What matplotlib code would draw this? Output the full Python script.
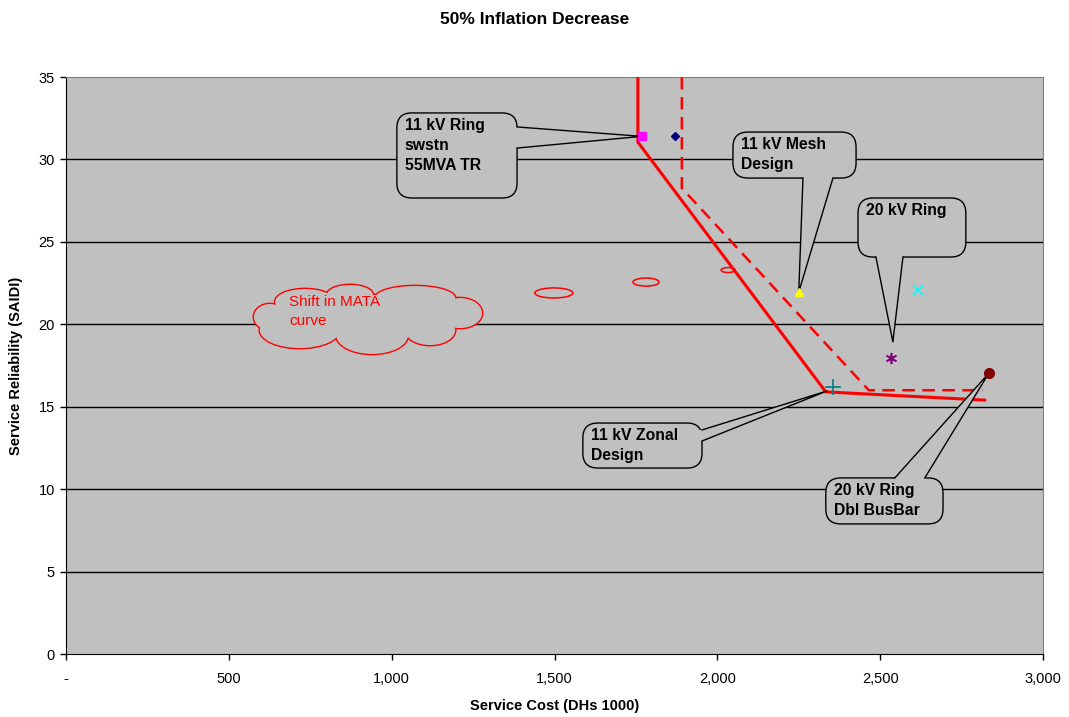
import matplotlib
matplotlib.use("Agg")
import matplotlib.pyplot as plt
from matplotlib.patches import FancyBboxPatch, Ellipse, Polygon
from matplotlib.ticker import FuncFormatter

plt.rcParams['font.family'] = ['Liberation Sans', 'DejaVu Sans']

# design options: service cost (DHs 1000) vs reliability (SAIDI)
ring_swstn = (1768, 31.4)
ring_swstn_alt = (1870, 31.4)
mesh_design = (2250, 21.95)
ring_20kv_alt = (2616, 22.1)
ring_20kv = (2533, 17.95)
zonal_design = (2355, 16.2)
ring_dbl_busbar = (2834, 17.04)

# MATA curves (original and shifted)
mata_x = [1756, 1756, 2333, 2821]
mata_y = [35, 31.05, 15.9, 15.4]
mata_shift_x = [1891, 1891, 2465, 2815]
mata_shift_y = [35, 28.26, 16.0, 16.0]

x_ticks = [0, 500, 1000, 1500, 2000, 2500, 3000]
y_ticks = [0, 5, 10, 15, 20, 25, 30, 35]

# callouts: text, box (x0, y0, x1, y1), wedge base two points, tip
callouts = [
    ("11 kV Ring\nswstn\n55MVA TR", (1016, 27.66, 1385, 32.82),
     [(1385, 31.97), (1385, 30.69)], ring_swstn),
    ("11 kV Mesh\nDesign", (2048, 28.87, 2426, 31.66),
     [(2263, 28.87), (2355, 28.87)], mesh_design),
    ("20 kV Ring", (2432, 24.08, 2763, 27.66),
     [(2487, 24.08), (2570, 24.08)], (2539, 18.93)),
    ("11 kV Zonal\nDesign", (1587, 11.28, 1953, 14.01),
     [(1953, 13.59), (1953, 12.92)], (2336, 15.95)),
    ("20 kV Ring\nDbl BusBar", (2333, 7.89, 2693, 10.68),
     [(2545, 10.68), (2637, 10.68)], ring_dbl_busbar),
]

# cloud lobes (cx, cy, width, height)
cloud = [(626, 20.44, 98, 1.58), (734, 21.35, 184, 1.58), (872, 21.78, 141, 1.21),
         (1072, 21.59, 246, 1.46), (1210, 20.68, 135, 1.82), (1118, 19.65, 154, 1.82),
         (940, 19.35, 221, 2.3), (718, 19.65, 246, 2.18), (933, 20.56, 553, 2.43)]
bubbles = [(1498, 21.9, 117, 0.61), (1781, 22.56, 80, 0.49), (2033, 23.29, 43, 0.3)]

bg = '#C0C0C0'
W, H = 1069, 717
fig = plt.figure(figsize=(W / 100, H / 100), dpi=100)
ax = fig.add_axes([66 / W, (H - 654) / H, 977 / W, 577 / H])
ax.set_facecolor(bg)
ax.set_xlim(0, 3000)
ax.set_ylim(0, 35)

for y in y_ticks[1:-1]:
    ax.axhline(y, color='black', lw=1, zorder=1)

ax.plot(mata_x, mata_y, color='red', lw=2.2, zorder=3)
ax.plot(mata_shift_x, mata_shift_y, color='red', lw=1.8, dashes=(5, 3), zorder=3)

ax.plot(*ring_swstn, marker='s', color='#FF00FF', ms=6, zorder=6)
ax.plot(*ring_swstn_alt, marker='D', color='#000080', ms=4.5, zorder=6)
ax.plot(*mesh_design, marker='^', color='#FFFF00', ms=6, zorder=6)
ax.plot(*ring_20kv_alt, marker='x', color='#00FFFF', ms=7, mew=1.2, zorder=6)
ax.plot(*ring_20kv, marker=(6, 2, 0), color='#800080', ms=8, mew=1.2, zorder=6)
ax.plot(*zonal_design, marker='+', color='#008080', ms=12, mew=1.2, zorder=6)
ax.plot(*ring_dbl_busbar, marker='o', color='#800000', ms=7, zorder=6)

# data units per pixel, for rounding boxes in screen proportions
ux = 3000 / 977
uy = 35 / 577
aspect = uy / ux

for text, (x0, y0, x1, y1), base, tip in callouts:
    box = FancyBboxPatch((x0, y0), x1 - x0, y1 - y0,
                         boxstyle='round,pad=0,rounding_size=%f' % (15 * ux),
                         mutation_aspect=aspect, fc=bg, ec='black', lw=1, zorder=4)
    ax.add_patch(box)
    (bx0, by0), (bx1, by1) = base
    # push the wedge base slightly into the box to hide the edge there
    if bx0 == bx1:
        inner = [(bx0 - 4 * ux, by0), (bx1 - 4 * ux, by1)]
    elif by0 >= y1 - 1e-6:
        inner = [(bx0, by0 - 4 * uy), (bx1, by1 - 4 * uy)]
    else:
        inner = [(bx0, by0 + 4 * uy), (bx1, by1 + 4 * uy)]
    ax.add_patch(Polygon([inner[0], base[0], tip, base[1], inner[1]],
                         closed=True, fc=bg, ec='none', zorder=4.5))
    ax.plot([bx0, tip[0], bx1], [by0, tip[1], by1], color='black', lw=1, zorder=5)
    ax.text(x0 + 8 * ux, y1 - 5 * uy, text, ha='left', va='top', fontsize=11.3,
            fontweight='bold', linespacing=1.42, zorder=5)

# cloud callout: stroke every lobe, then fill over the inner strokes
for cx, cy, w, h in cloud:
    ax.add_patch(Ellipse((cx, cy), w, h, fc='none', ec='red', lw=2, zorder=2))
for cx, cy, w, h in cloud:
    ax.add_patch(Ellipse((cx, cy), w, h, fc=bg, ec='none', zorder=2.1))
for cx, cy, w, h in bubbles:
    ax.add_patch(Ellipse((cx, cy), w, h, fc='none', ec='red', lw=1.1, zorder=2))
ax.text(685, 21.75, "Shift in MATA\ncurve", color='red', fontsize=11,
        ha='left', va='top', linespacing=1.45, zorder=2.5)

ax.set_xticks(x_ticks)
ax.set_yticks(y_ticks)
ax.xaxis.set_major_formatter(FuncFormatter(lambda v, p: '-' if v == 0 else f'{v:,.0f}'))
ax.tick_params(direction='out', length=4, width=1, labelsize=10.5, pad=4)
ax.tick_params(axis='x', pad=9)
for s in ('top', 'right'):
    ax.spines[s].set_color('#808080')
for s in ('left', 'bottom'):
    ax.spines[s].set_color('black')

ax.set_xlabel('Service Cost (DHs 1000)', fontsize=10.5, fontweight='bold', labelpad=9)
ax.set_ylabel('Service Reliability (SAIDI)', fontsize=10.5, fontweight='bold')
ax.yaxis.set_label_coords(-0.044, 0.5)
fig.suptitle('50% Inflation Decrease', fontsize=12.5, fontweight='bold', y=1 - 19 / H, va='center')

fig.savefig('out.png', dpi=100, facecolor='white')
